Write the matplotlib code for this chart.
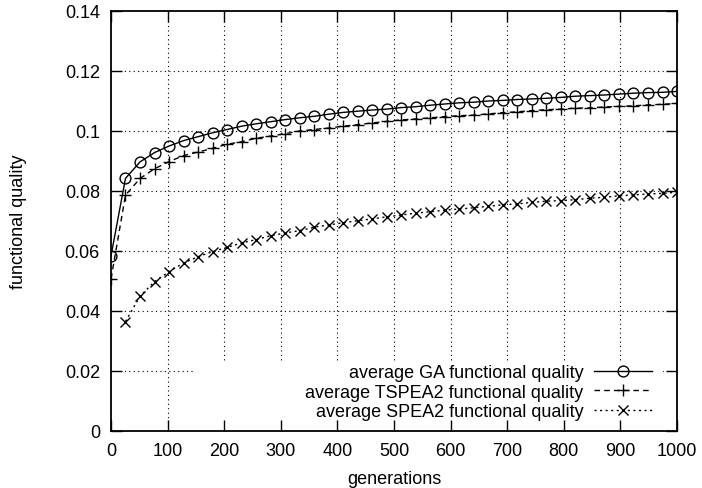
import matplotlib
matplotlib.use("Agg")
import matplotlib.pyplot as plt
from matplotlib.patches import Rectangle

plt.rcParams['font.family'] = ['Liberation Sans', 'DejaVu Sans']

generations = [0.0, 25.6, 51.3, 76.9, 102.6, 128.2, 153.8, 179.5, 205.1, 230.8,
               256.4, 282.1, 307.7, 333.3, 359.0, 384.6, 410.3, 435.9, 461.5, 487.2,
               512.8, 538.5, 564.1, 589.7, 615.4, 641.0, 666.7, 692.3, 717.9, 743.6,
               769.2, 794.9, 820.5, 846.2, 871.8, 897.4, 923.1, 948.7, 974.4, 1000.0]

ga_quality = [0.0584, 0.0842, 0.0897, 0.0928, 0.0950, 0.0968, 0.0981, 0.0994, 0.1005, 0.1016,
              0.1024, 0.1031, 0.1038, 0.1044, 0.1049, 0.1056, 0.1062, 0.1066, 0.1070, 0.1073,
              0.1078, 0.1081, 0.1086, 0.1090, 0.1094, 0.1096, 0.1100, 0.1102, 0.1105, 0.1107,
              0.1109, 0.1112, 0.1116, 0.1118, 0.1120, 0.1123, 0.1126, 0.1128, 0.1129, 0.1132]

tspea2_quality = [0.0507, 0.0786, 0.0842, 0.0874, 0.0898, 0.0918, 0.0930, 0.0942, 0.0956, 0.0964,
                  0.0976, 0.0983, 0.0991, 0.1000, 0.1005, 0.1010, 0.1016, 0.1021, 0.1027, 0.1032,
                  0.1037, 0.1040, 0.1044, 0.1048, 0.1051, 0.1053, 0.1057, 0.1061, 0.1064, 0.1068,
                  0.1071, 0.1073, 0.1076, 0.1077, 0.1080, 0.1082, 0.1084, 0.1087, 0.1089, 0.1092]

spea2_generations = generations[1:]
spea2_quality = [0.0365, 0.0449, 0.0498, 0.0531, 0.0560, 0.0581, 0.0598, 0.0612, 0.0627,
                 0.0638, 0.0651, 0.0660, 0.0668, 0.0679, 0.0687, 0.0694, 0.0701, 0.0707, 0.0714,
                 0.0720, 0.0726, 0.0731, 0.0736, 0.0740, 0.0744, 0.0749, 0.0754, 0.0757, 0.0762,
                 0.0766, 0.0768, 0.0771, 0.0776, 0.0779, 0.0784, 0.0787, 0.0790, 0.0792, 0.0796]

x_ticks = [0, 100, 200, 300, 400, 500, 600, 700, 800, 900, 1000]
y_ticks = [0, 0.02, 0.04, 0.06, 0.08, 0.1, 0.12, 0.14]
y_tick_labels = ["0", "0.02", "0.04", "0.06", "0.08", "0.1", "0.12", "0.14"]

labels = ["average GA functional quality",
          "average TSPEA2 functional quality",
          "average SPEA2 functional quality"]

fig = plt.figure(figsize=(7.02, 4.89), dpi=100)
ax = fig.add_axes([111/702, 1 - 432/489, 566/702, 420/489])

ax.plot(generations, ga_quality, color='black', lw=1.0, linestyle='-',
        marker='o', markersize=7.8, markerfacecolor='none', markeredgewidth=1.0,
        label=labels[0], zorder=2)
ax.plot(generations, tspea2_quality, color='black', lw=1.0, linestyle=(0, (4, 3)),
        marker='+', markersize=8, markeredgewidth=1.0, label=labels[1], zorder=2)
ax.plot(spea2_generations, spea2_quality, color='black', lw=1.0, linestyle=(0, (1.5, 2.5)),
        marker='x', markersize=7, markeredgewidth=1.0, label=labels[2], zorder=2)

ax.set_xlim(0, 1000)
ax.set_ylim(0, 0.14)
ax.set_xticks(x_ticks)
ax.set_xticklabels([str(t) for t in x_ticks])
ax.set_yticks(y_ticks)
ax.set_yticklabels(y_tick_labels)

# dotted grid drawn at the tick positions, below everything else
for xt in x_ticks[1:-1]:
    ax.axvline(xt, color='black', linestyle=(0, (1, 3)), linewidth=0.8, zorder=0.5)
for yt in y_ticks[1:-1]:
    ax.axhline(yt, color='black', linestyle=(0, (1, 3)), linewidth=0.8, zorder=0.5)

ax.tick_params(direction='in', length=8, width=1.0, top=True, right=True,
               labelsize=13, pad=8, colors='black')
ax.set_axisbelow(False)
for s in ax.spines.values():
    s.set_linewidth(1.3)
    s.set_zorder(5)

ax.set_xlabel("generations", fontsize=13, labelpad=8)
ax.set_ylabel("functional quality", fontsize=13, labelpad=27)

# white key area hiding the grid (gnuplot-style key box)
ax.add_patch(Rectangle((0.145, 0.0), 0.83, 0.167, transform=ax.transAxes,
                       facecolor='white', edgecolor='none', zorder=1))

leg = ax.legend(loc='lower right', bbox_to_anchor=(0.972, 0.004), markerfirst=False,
                frameon=False, fontsize=13, handlelength=3.2, handletextpad=0.6,
                labelspacing=0.15, borderpad=0.5, borderaxespad=0.0)
leg.set_zorder(1.2)

fig.savefig("out.png", dpi=100)
